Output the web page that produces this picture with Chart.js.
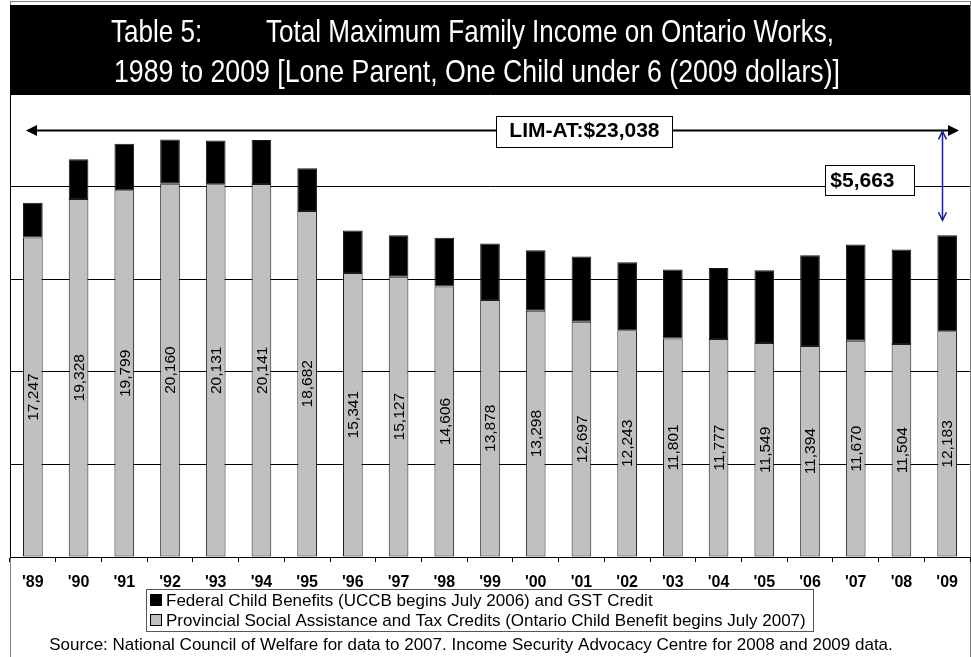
<!DOCTYPE html>
<html>
<head>
<meta charset="utf-8">
<title>Total Maximum Family Income on Ontario Works, 1989 to 2009</title>
<script src="https://cdn.jsdelivr.net/npm/chart.js@4.4.1/dist/chart.umd.min.js"></script>
<style>
  body { margin: 0; background: #fff; }
  #wrap { width: 971px; height: 657px; }
</style>
</head>
<body>
<div id="wrap"><canvas id="owChart" width="971" height="657"></canvas></div>
<script>
// Years shown on the axis
var years = ["'89", "'90", "'91", "'92", "'93", "'94", "'95", "'96", "'97", "'98", "'99",
             "'00", "'01", "'02", "'03", "'04", "'05", "'06", "'07", "'08", "'09"];

// Provincial social assistance and tax credits (2009 dollars)
var provincial = [17247, 19328, 19799, 20160, 20131, 20141, 18682, 15341, 15127, 14606, 13878,
                  13298, 12697, 12243, 11801, 11777, 11549, 11394, 11670, 11504, 12183];

// Federal child benefits and GST credit (2009 dollars)
var federal = [1878, 2154, 2515, 2387, 2362, 2369, 2314, 2286, 2246, 2626, 3046,
               3264, 3524, 3670, 3717, 3833, 3932, 4897, 5200, 5095, 5192];

// Low income measure after tax, and the 2009 shortfall below it
var limAt = 23038;
var gap09 = 5663;

var titleLeft = "Table 5:";
var titleRight = "Total Maximum Family Income on Ontario Works,";
var titleLine2 = "1989 to 2009 [Lone Parent, One Child under 6 (2009 dollars)]";
var legendLabels = ["Provincial Social Assistance and Tax Credits (Ontario Child Benefit begins July 2007)",
                    "Federal Child Benefits (UCCB begins July 2006) and GST Credit"];
var sourceText = "Source: National Council of Welfare for data to 2007. Income Security Advocacy Centre for 2008 and 2009 data.";

var arial = '"Liberation Sans", Arial, Helvetica, sans-serif';

function fmt(v) {
    return v.toString().replace(/\B(?=(\d{3})+(?!\d))/g, ",");
}

// arrow head, filled or open, pointing along angle
function arrowHead(ctx, x, y, angle, size, filled) {
    ctx.save();
    ctx.translate(x, y);
    ctx.rotate(angle);
    ctx.beginPath();
    ctx.moveTo(-size, -size * 0.5);
    ctx.lineTo(0, 0);
    ctx.lineTo(-size, size * 0.5);
    if (filled) {
        ctx.closePath();
        ctx.fill();
    } else {
        ctx.stroke();
    }
    ctx.restore();
}

// no narrow face installed, so squeeze the regular one sideways
function narrowText(ctx, text, x, y, sx) {
    ctx.save();
    ctx.translate(x, y);
    ctx.scale(sx, 1);
    ctx.fillText(text, 0, 0);
    ctx.restore();
}

// frame and white page behind the chart
var framePlugin = {
    id: 'frame',
    beforeDraw: function (chart) {
        var ctx = chart.ctx;
        ctx.save();
        ctx.fillStyle = '#fff';
        ctx.fillRect(0, 0, chart.width, chart.height);
        ctx.strokeStyle = '#808080';
        ctx.lineWidth = 1;
        ctx.strokeRect(10.5, 1.5, chart.chartArea.right - 10, chart.height + 5);
        ctx.restore();
    }
};

// value printed sideways in the middle of each provincial segment
var valueLabels = {
    id: 'valueLabels',
    afterDatasetsDraw: function (chart) {
        var ctx = chart.ctx;
        var meta = chart.getDatasetMeta(0);
        ctx.save();
        ctx.fillStyle = '#000';
        ctx.font = '15.5px ' + arial;
        ctx.textAlign = 'center';
        ctx.textBaseline = 'middle';
        meta.data.forEach(function (bar, i) {
            var yc = (bar.y + bar.base) / 2;
            ctx.save();
            ctx.translate(bar.x, yc);
            ctx.rotate(-Math.PI / 2);
            ctx.fillText(fmt(chart.data.datasets[0].data[i]), 0, 1);
            ctx.restore();
        });
        ctx.restore();
    }
};

// LIM-AT line, the 2009 gap arrow, title bar, legend and source line
var annotations = {
    id: 'annotations',
    afterDraw: function (chart) {
        var ctx = chart.ctx;
        var area = chart.chartArea;
        var xs = chart.scales.x, ys = chart.scales.y;
        var last = years.length - 1;
        ctx.save();

        // LIM-AT line across the plot
        var yLim = Math.round(ys.getPixelForValue(limAt)) + 0.5;
        ctx.strokeStyle = '#000';
        ctx.fillStyle = '#000';
        ctx.lineWidth = 2;
        ctx.beginPath();
        ctx.moveTo(area.left + 18, yLim);
        ctx.lineTo(area.right - 13, yLim);
        ctx.stroke();
        arrowHead(ctx, area.left + 16, yLim, Math.PI, 11, true);
        arrowHead(ctx, area.right - 11, yLim, 0, 11, true);

        ctx.font = 'bold 21px ' + arial;
        ctx.textAlign = 'center';
        ctx.textBaseline = 'middle';
        var limText = 'LIM-AT:$' + fmt(limAt);
        var lx = xs.getPixelForValue(12) + 3;
        var lw = ctx.measureText(limText).width + 26;
        ctx.fillStyle = '#fff';
        ctx.fillRect(lx - lw / 2, yLim - 15, lw, 31);
        ctx.lineWidth = 1;
        ctx.strokeRect(Math.round(lx - lw / 2) + 0.5, Math.round(yLim - 15) + 0.5, Math.round(lw), 31);
        ctx.fillStyle = '#000';
        ctx.fillText(limText, lx, yLim + 1);

        // gap between the 2009 total and LIM-AT
        var total09 = provincial[last] + federal[last];
        var ax = Math.round(xs.getPixelForValue(last)) - 4.5;
        var aTop = ys.getPixelForValue(total09 + gap09) + 1;
        var aBot = ys.getPixelForValue(total09) - 15;
        ctx.strokeStyle = '#1c1c8c';
        ctx.lineWidth = 1.5;
        ctx.beginPath();
        ctx.moveTo(ax, aTop);
        ctx.lineTo(ax, aBot);
        ctx.stroke();
        arrowHead(ctx, ax, aTop, -Math.PI / 2, 8, false);
        arrowHead(ctx, ax, aBot, Math.PI / 2, 8, false);

        var gapText = '$' + fmt(gap09);
        var gy = ys.getPixelForValue(total09 + gap09 / 2) - 3;
        var gw = ctx.measureText(gapText).width + 25;
        var gRight = ax - 28;
        ctx.fillStyle = '#fff';
        ctx.fillRect(gRight - gw, gy - 15, gw, 30);
        ctx.strokeStyle = '#000';
        ctx.lineWidth = 1;
        ctx.strokeRect(Math.round(gRight - gw) + 0.5, Math.round(gy - 15) + 0.5, Math.round(gw), 30);
        ctx.fillStyle = '#000';
        ctx.textAlign = 'left';
        ctx.fillText(gapText, gRight - gw + 5, gy + 1);

        // title bar
        ctx.fillStyle = '#000';
        ctx.fillRect(area.left, 5, area.right - area.left, area.top - 5);
        ctx.fillStyle = '#fff';
        ctx.font = '32px ' + arial;
        ctx.textBaseline = 'middle';
        ctx.textAlign = 'left';
        var sx2 = 726 / ctx.measureText(titleLine2).width;
        var sx1 = 568 / ctx.measureText(titleRight).width;
        narrowText(ctx, titleLeft, 111, 33, sx1);
        narrowText(ctx, titleRight, 266, 33, sx1);
        narrowText(ctx, titleLine2, 114, 73, sx2);

        // legend box, federal first
        ctx.strokeStyle = '#555';
        ctx.lineWidth = 1;
        ctx.strokeRect(146.5, 589.5, 667, 42);
        ctx.font = '17px ' + arial;
        ctx.textAlign = 'left';
        ctx.textBaseline = 'middle';
        var order = [1, 0];
        order.forEach(function (d, k) {
            var ds = chart.data.datasets[d];
            var ry = 600 + k * 20;
            ctx.fillStyle = ds.backgroundColor;
            ctx.fillRect(150, ry - 6, 12, 12);
            ctx.strokeStyle = '#000';
            ctx.strokeRect(150.5, ry - 5.5, 11, 11);
            ctx.fillStyle = '#000';
            ctx.fillText(ds.label, 166, ry + 1);
        });

        // source line
        ctx.font = '17px ' + arial;
        ctx.textAlign = 'center';
        ctx.fillText(sourceText, 471, 645);

        ctx.restore();
    }
};

var ctxOw = document.getElementById('owChart').getContext('2d');
var owChart = new Chart(ctxOw, {
    type: 'bar',
    data: {
        labels: years,
        datasets: [
            {
                label: legendLabels[0],
                data: provincial,
                backgroundColor: '#c0c0c0',
                borderColor: '#1a1a1a',
                borderWidth: 1,
                borderSkipped: false
            },
            {
                label: legendLabels[1],
                data: federal,
                backgroundColor: '#000000',
                borderColor: '#1a1a1a',
                borderWidth: 1,
                borderSkipped: false
            }
        ]
    },
    options: {
        responsive: false,
        devicePixelRatio: 1,
        animation: false,
        layout: { padding: { left: 10, right: 1, top: 94, bottom: 60 } },
        datasets: { bar: { categoryPercentage: 1, barPercentage: 0.43 } },
        plugins: {
            legend: { display: false },
            tooltip: { enabled: false },
            title: { display: false }
        },
        scales: {
            x: {
                stacked: true,
                grid: { offset: true, drawOnChartArea: false, drawTicks: true, tickLength: 5, color: '#000' },
                border: { color: '#000' },
                ticks: {
                    color: '#000',
                    padding: 11,
                    autoSkip: false,
                    maxRotation: 0,
                    font: { family: arial, size: 16, weight: 'bold' }
                },
                afterFit: function (s) { s.height = 40; }
            },
            y: {
                stacked: true,
                min: 0,
                max: 25000,
                ticks: { display: false, stepSize: 5000 },
                grid: { color: '#000', drawTicks: false },
                border: { color: '#000' },
                afterFit: function (s) { s.width = 0; }
            }
        }
    },
    plugins: [framePlugin, valueLabels, annotations]
});
</script>
</body>
</html>
